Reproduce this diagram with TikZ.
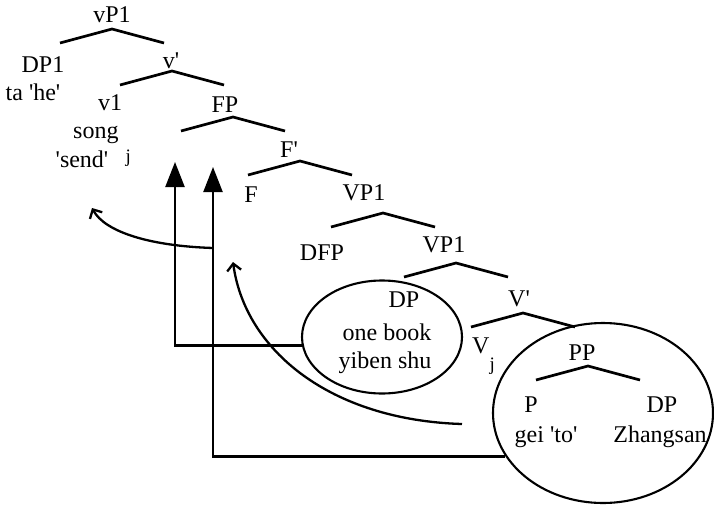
\documentclass[tikz,border=0pt]{standalone}
\usepackage{fontspec}
\setmainfont{Liberation Serif}[Ligatures=TeXOff]
\usetikzlibrary{shapes.geometric,arrows.meta}
\newcommand{\subj}[2]{\hspace{#1}\raisebox{#2}{\fontsize{19}{19}\selectfont j}}
\begin{document}
\begin{tikzpicture}[x=1pt,y=-1pt,
  lab/.style={inner sep=0pt, anchor=base, font=\fontsize{24}{28}\selectfont},
  labw/.style={lab, anchor=base west},
  br/.style={line width=2.7pt, line join=miter},
  ell/.style={draw, ellipse, line width=2.1pt, inner sep=0pt},
  conn/.style={line width=2.3pt},
  up/.style={conn, -{Triangle[length=25pt,width=19pt]}},
  curv/.style={conn, -{Straight Barb[length=7pt,width=14pt,line width=2.3pt]}}
]
\useasboundingbox (0,0) rectangle (714,514);

% branch apexes
\coordinate (b1) at (112,29);
\coordinate (b2) at (172,71);
\coordinate (b3) at (233,117);
\coordinate (b4) at (300,161);
\coordinate (b5) at (383,213);
\coordinate (b6) at (456,263);
\coordinate (b7) at (523,313);
\coordinate (b8) at (588,366);
\foreach \b in {b1,b2,b3,b4,b5,b6,b7,b8}
  \draw[br] (\b) ++(-52,14) -- (\b) -- ++(52,14);

% ellipses
\node[ell, minimum width=160pt, minimum height=113pt] (e1) at (382,337) {};
\node[ell, minimum width=220pt, minimum height=180pt] (e2) at (603,413) {};

% labels
\node[lab] (vP1) at (112,22) {vP1};
\node[lab] (DP1) at (43,72) {DP1};
\node[lab] (ta) at (33,100) {ta 'he'};
\node[lab] (vbar) at (171,68) {v'};
\node[lab] (v1) at (110,110) {v1};
\node[lab] (FP) at (225,112) {FP};
\node[labw] (song) at (73,138) {song\subj{7pt}{-24pt}};
\node[lab] (send) at (82,167) {'send'};
\node[lab] (Fbar) at (289,157) {F'};
\node[lab] (F) at (251,202) {F};
\node[lab] (VP1a) at (364,200) {VP1};
\node[lab] (DFP) at (322,260) {DFP};
\node[lab] (VP1b) at (444,252) {VP1};
\node[lab] (DPa) at (404,307) {DP};
\node[lab] (onebook) at (387,340) {one book};
\node[lab] (yiben) at (385,368) {yiben shu};
\node[lab] (Vbar) at (519,306) {V'};
\node[labw] (Vj) at (472,353) {V\subj{0pt}{-17pt}};
\node[lab] (PP) at (582,360) {PP};
\node[lab] (P) at (531,412) {P};
\node[lab] (DPb) at (662,412) {DP};
\node[lab] (gei) at (546,442) {gei 'to'};
\node[lab] (zs) at (660,442) {Zhangsan};

% movement arrows
\coordinate (tA) at (175,162);
\coordinate (tB) at (213,167);
\draw[up] (e1.186) -| (tA);
\draw[up] (e2.204) -| (tB);
\coordinate (jA) at (213,248);
\coordinate (hA) at (92,208);
\draw[curv] (jA) .. controls (150,246) and (105,232) .. (hA);
\coordinate (sB) at (462,424);
\coordinate (hB) at (233,262);
\draw[curv] (sB) .. controls (330,420) and (245,350) .. (hB);
\end{tikzpicture}
\end{document}
